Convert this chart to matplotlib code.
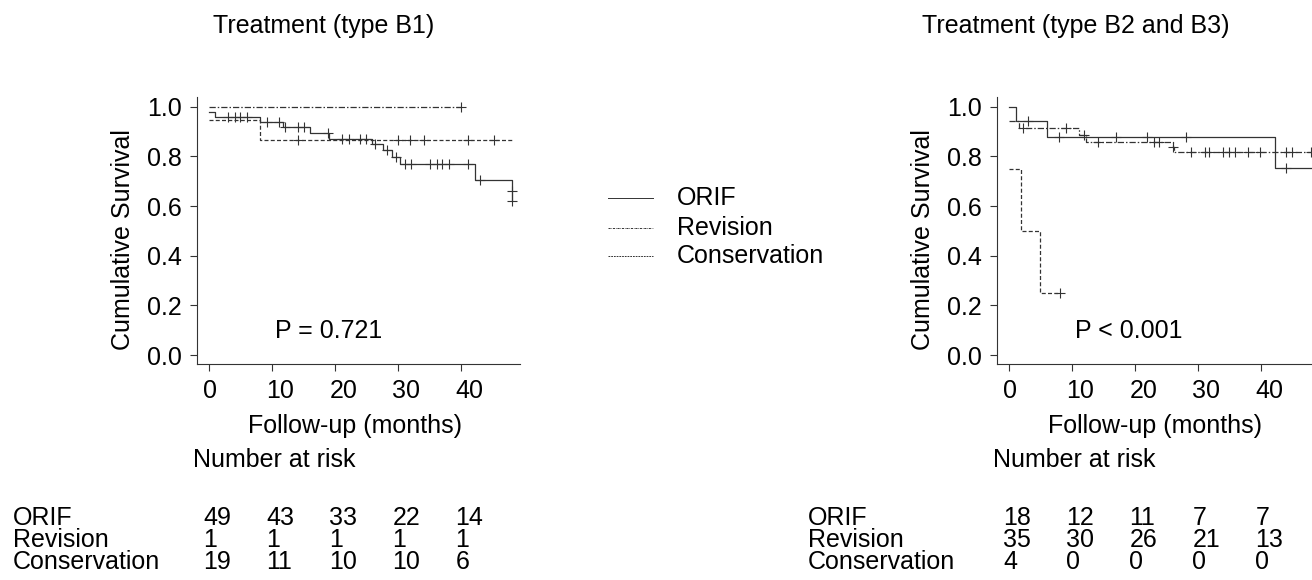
import numpy as np
import matplotlib
matplotlib.use("Agg")
import matplotlib.pyplot as plt
from matplotlib import transforms

plt.rcParams['font.family'] = ['Liberation Sans', 'DejaVu Sans']
plt.rcParams['font.size'] = 18

W, H = 1312, 580
INK = '#333333'

groups = ['ORIF', 'Revision', 'Conservation']
risk_times = [0, 10, 20, 30, 40]

# ---- type B1 ----
b1_orif_start = 0.98
b1_orif_t = [0.9, 8.0, 11.7, 16.0, 19.0, 25.8, 27.6, 29.0, 30.3, 42.2, 48.0, 48.02]
b1_orif_s = [0.96, 0.94, 0.918, 0.893, 0.868, 0.851, 0.826, 0.797, 0.768, 0.705, 0.66, 0.62]
b1_orif_end = 48.02
b1_orif_cens = [3.0, 4.1, 4.9, 6.0, 9.1, 11.1, 12.0, 14.1, 15.0, 18.9, 21.0, 22.2, 23.9,
                24.9, 26.3, 28.2, 29.6, 31.1, 32.0, 35.0, 36.1, 37.0, 38.0, 41.0, 43.0,
                48.0, 48.02]

b1_rev_start = 1.0
b1_rev_t = []
b1_rev_s = []
b1_rev_end = 40.0
b1_rev_cens = [40.0]

b1_con_start = 0.947
b1_con_t = [8.0]
b1_con_s = [0.867]
b1_con_end = 48.2
b1_con_cens = [14.1, 30.0, 31.9, 34.0, 41.0, 45.1]

b1_risk = [[49, 43, 33, 22, 14],
           [1, 1, 1, 1, 1],
           [19, 11, 10, 10, 6]]

# ---- type B2 and B3 ----
b2_orif_start = 1.0
b2_orif_t = [1.06, 6.0, 42.1]
b2_orif_s = [0.944, 0.877, 0.752]
b2_orif_end = 50.0
b2_orif_cens = [2.9, 7.9, 16.9, 21.9, 28.0, 43.9]

b2_rev_start = 0.943
b2_rev_t = [1.5, 11.1, 12.2, 25.9, 26.2]
b2_rev_s = [0.915, 0.886, 0.856, 0.839, 0.819]
b2_rev_end = 50.0
b2_rev_cens = [2.1, 9.0, 11.9, 14.0, 23.0, 23.8, 26.0, 28.8, 31.0, 31.7, 33.9, 34.9,
               35.8, 37.8, 39.8, 43.9, 44.8, 47.8]

b2_con_start = 0.75
b2_con_t = [1.85, 4.9]
b2_con_s = [0.5, 0.25]
b2_con_end = 8.1
b2_con_cens = [8.1]

b2_risk = [[18, 12, 11, 7, 7],
           [35, 30, 26, 21, 13],
           [4, 0, 0, 0, 0]]

styles = {
    'ORIF': dict(ls='-'),
    'Revision': dict(ls=(0, (5, 1.6, 1.2, 1.6))),
    'Conservation': dict(ls=(0, (3.2, 1.8))),
}


def km(ax, start, times, surv, end, cens, name):
    t = np.r_[0.0, times, end]
    s = np.r_[start, surv, surv[-1] if len(surv) else start]
    ax.step(t, s, where='post', color=INK, lw=0.9, **styles[name])
    idx = np.searchsorted(t, cens, side='right') - 1
    ax.plot(cens, s[idx], ls='none', marker='+', ms=7, mew=0.8, color=INK)


fig = plt.figure(figsize=(W / 100, H / 100), dpi=100)


def px(x, y):
    return x / W, 1 - y / H


panels = [
    dict(left=197.3, title='Treatment (type B1)', title_x=213, ptext='P = 0.721',
         row_x=13, off=0,
         curves=[(b1_orif_start, b1_orif_t, b1_orif_s, b1_orif_end, b1_orif_cens, 'ORIF'),
                 (b1_rev_start, b1_rev_t, b1_rev_s, b1_rev_end, b1_rev_cens, 'Revision'),
                 (b1_con_start, b1_con_t, b1_con_s, b1_con_end, b1_con_cens, 'Conservation')],
         risk=b1_risk),
    dict(left=997.3, title='Treatment (type B2 and B3)', title_x=922, ptext='P < 0.001',
         row_x=808, off=800,
         curves=[(b2_orif_start, b2_orif_t, b2_orif_s, b2_orif_end, b2_orif_cens, 'ORIF'),
                 (b2_rev_start, b2_rev_t, b2_rev_s, b2_rev_end, b2_rev_cens, 'Revision'),
                 (b2_con_start, b2_con_t, b2_con_s, b2_con_end, b2_con_cens, 'Conservation')],
         risk=b2_risk),
]

for p in panels:
    ax = fig.add_axes([p['left'] / W, 1 - 364 / H, 322.7 / W, 267.3 / H])
    ax.patch.set_alpha(0)
    for c in p['curves']:
        km(ax, *c)
    ax.set_xlim(-1.9, 49.3)
    ax.set_ylim(-0.036, 1.04)
    ax.set_xticks(risk_times)
    ax.set_yticks(np.arange(0, 1.01, 0.2))
    ax.set_yticklabels(['%.1f' % v for v in np.arange(0, 1.01, 0.2)])
    for sp in ['top', 'right']:
        ax.spines[sp].set_visible(False)
    for sp in ['left', 'bottom']:
        ax.spines[sp].set_color(INK)
        ax.spines[sp].set_linewidth(0.8)
    ax.tick_params(axis='both', direction='out', length=5, width=0.8, color=INK,
                   labelsize=18, labelcolor='black')
    ax.tick_params(axis='x', labelbottom=False)
    ax.tick_params(axis='y', pad=6)
    ax.text(10.4, 0.097, p['ptext'], ha='left', va='center', fontsize=18)

    off = p['off']
    fig.text(*px(p['title_x'], 26), p['title'], ha='left', va='center', fontsize=18)
    fig.text(*px(123 + off, 240), 'Cumulative Survival', rotation=90,
             ha='center', va='center', fontsize=18)
    fig.text(*px(355 + off, 426), 'Follow-up (months)', ha='center', va='center',
             fontsize=18)
    fig.text(*px(193 + off, 460), 'Number at risk', ha='left', va='center', fontsize=18)

    # x tick labels and risk numbers sit left-aligned just before each tick
    trans = transforms.blended_transform_factory(ax.transData, fig.transFigure)
    trans = transforms.offset_copy(trans, fig=fig, x=-6, units='dots')
    for t in risk_times:
        ax.text(t, 1 - 391 / H, str(t), transform=trans, ha='left', va='center',
                fontsize=18, clip_on=False)
    row_y = [518, 540, 562]
    for g, counts, ry in zip(groups, p['risk'], row_y):
        fig.text(*px(p['row_x'], ry), g, ha='left', va='center', fontsize=18)
        for t, n in zip(risk_times, counts):
            ax.text(t, 1 - ry / H, str(n), transform=trans, ha='left', va='center',
                    fontsize=18, clip_on=False)

# legend in the middle
leg_y = [198, 228, 256]
leg_styles = {
    'ORIF': dict(ls='-'),
    'Revision': dict(ls=(0, (2.2, 0.9, 0.6, 0.9))),
    'Conservation': dict(ls=(0, (1.8, 1.0))),
}
for g, ly in zip(groups, leg_y):
    x0, y0 = px(608, ly)
    x1, _ = px(653, ly)
    fig.add_artist(plt.Line2D([x0, x1], [y0, y0], transform=fig.transFigure,
                              color=INK, lw=0.7, **leg_styles[g]))
    fig.text(*px(677, ly), g, ha='left', va='center', fontsize=18)

fig.savefig('out.png', dpi=100)
